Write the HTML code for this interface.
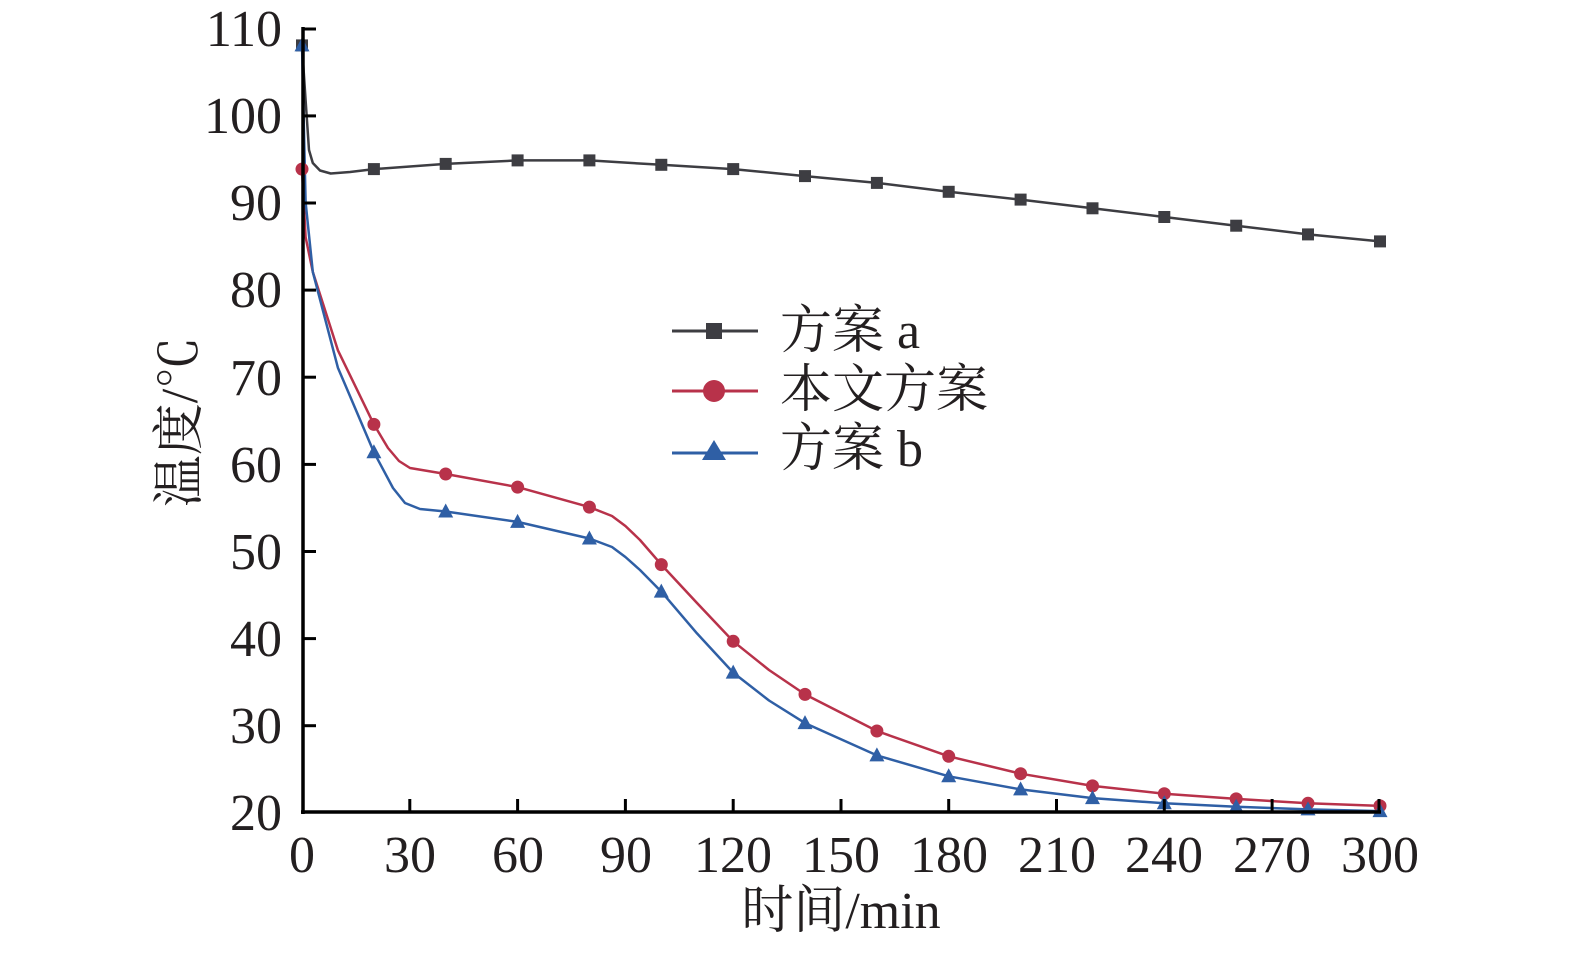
<!DOCTYPE html>
<html><head><meta charset="utf-8"><style>
body{margin:0;background:#fff}
svg text{font-family:"Liberation Serif","Noto Serif CJK SC",serif;fill:#231f20}
</style></head><body>
<svg width="1575" height="950" xmlns="http://www.w3.org/2000/svg">
<g fill="none" stroke-width="2.5" stroke-linejoin="round">
<polyline stroke="#3d3d42" points="302,45.4 305.6,100.2 309,150 312.8,163 320,170.5 330.7,173.5 350,172 373.9,169.1 445.7,163.9 517.6,160.4 589.4,160.4 661.3,164.8 733.2,169.1 805,176.1 876.9,182.9 948.7,191.8 1020.6,199.6 1092.5,208.3 1164.3,217 1236.2,225.7 1308,234.4 1380,241.4"/>
<polyline stroke="#b8324a" points="302,169.1 305.6,237.1 312.8,271.9 337.9,350.3 373.9,424.4 388,448 399,461 410,468 445.7,474 517.6,487.1 589.4,507.1 612,516 625.4,526 640,540 661.3,564.6 697,603 733.2,641.3 769,670 805,694.4 876.9,731 948.7,756.3 1020.6,773.7 1092.5,785.9 1164.3,793.7 1236.2,798.9 1308,803.3 1380,805.9"/>
<polyline stroke="#2f5fa5" points="302,45.4 305.6,202.2 312.8,271.9 337.9,367.7 373.9,452.2 393,488 405,503 420,509 445.7,511.5 517.6,521.9 589.4,538.5 612,547 625.4,557 640,570 661.3,591.6 697,633.4 733.2,672.6 769,700.5 805,723.1 876.9,755.4 948.7,776.3 1020.6,789.4 1092.5,798.1 1164.3,803.3 1236.2,806.8 1308,809.4 1380,811.1"/>
</g>
<g fill="#3d3d42">
<rect x="296" y="39.4" width="12" height="12"/><rect x="367.9" y="163.1" width="12" height="12"/><rect x="439.7" y="157.9" width="12" height="12"/><rect x="511.6" y="154.4" width="12" height="12"/><rect x="583.4" y="154.4" width="12" height="12"/><rect x="655.3" y="158.8" width="12" height="12"/><rect x="727.2" y="163.1" width="12" height="12"/><rect x="799" y="170.1" width="12" height="12"/><rect x="870.9" y="176.9" width="12" height="12"/><rect x="942.7" y="185.8" width="12" height="12"/><rect x="1014.6" y="193.6" width="12" height="12"/><rect x="1086.5" y="202.3" width="12" height="12"/><rect x="1158.3" y="211" width="12" height="12"/><rect x="1230.2" y="219.7" width="12" height="12"/><rect x="1302" y="228.4" width="12" height="12"/><rect x="1374" y="235.4" width="12" height="12"/>
<rect x="706" y="323" width="16" height="16"/>
</g>
<g fill="#b8324a">
<circle cx="302" cy="169.1" r="6.5"/><circle cx="373.9" cy="424.4" r="6.5"/><circle cx="445.7" cy="474" r="6.5"/><circle cx="517.6" cy="487.1" r="6.5"/><circle cx="589.4" cy="507.1" r="6.5"/><circle cx="661.3" cy="564.6" r="6.5"/><circle cx="733.2" cy="641.3" r="6.5"/><circle cx="805" cy="694.4" r="6.5"/><circle cx="876.9" cy="731" r="6.5"/><circle cx="948.7" cy="756.3" r="6.5"/><circle cx="1020.6" cy="773.7" r="6.5"/><circle cx="1092.5" cy="785.9" r="6.5"/><circle cx="1164.3" cy="793.7" r="6.5"/><circle cx="1236.2" cy="798.9" r="6.5"/><circle cx="1308" cy="803.3" r="6.5"/><circle cx="1380" cy="805.9" r="6.5"/>
<circle cx="714" cy="391" r="11"/>
</g>
<g fill="#2f5fa5">
<polygon points="302,37.4 294.5,51.4 309.5,51.4"/>
<polygon points="373.9,444.2 366.4,458.2 381.4,458.2"/>
<polygon points="445.7,503.5 438.2,517.5 453.2,517.5"/>
<polygon points="517.6,513.9 510.1,527.9 525.1,527.9"/>
<polygon points="589.4,530.5 581.9,544.5 596.9,544.5"/>
<polygon points="661.3,583.6 653.8,597.6 668.8,597.6"/>
<polygon points="733.2,664.6 725.7,678.6 740.7,678.6"/>
<polygon points="805,715.1 797.5,729.1 812.5,729.1"/>
<polygon points="876.9,747.4 869.4,761.4 884.4,761.4"/>
<polygon points="948.7,768.3 941.2,782.3 956.2,782.3"/>
<polygon points="1020.6,781.4 1013.1,795.4 1028.1,795.4"/>
<polygon points="1092.5,790.1 1085,804.1 1100,804.1"/>
<polygon points="1164.3,795.3 1156.8,809.3 1171.8,809.3"/>
<polygon points="1236.2,798.8 1228.7,812.8 1243.7,812.8"/>
<polygon points="1308,801.4 1300.5,815.4 1315.5,815.4"/>
<polygon points="1380,803.1 1372.5,817.1 1387.5,817.1"/>
<polygon points="714,440 702,460 726,460"/>
</g>
<g stroke-width="3">
<line x1="672" y1="331" x2="758" y2="331" stroke="#3d3d42"/>
<line x1="672" y1="391" x2="758" y2="391" stroke="#b8324a"/>
<line x1="672" y1="453" x2="758" y2="453" stroke="#2f5fa5"/>
</g>
<g stroke="#000" stroke-width="3">
<line x1="303" y1="27" x2="303" y2="814" stroke-width="3.5"/>
<line x1="301" y1="812" x2="1381" y2="812" stroke-width="3.5"/>
<line x1="303" y1="29" x2="316" y2="29"/><line x1="303" y1="115.9" x2="316" y2="115.9"/><line x1="303" y1="203" x2="316" y2="203"/><line x1="303" y1="290.1" x2="316" y2="290.1"/><line x1="303" y1="377.2" x2="316" y2="377.2"/><line x1="303" y1="464.4" x2="316" y2="464.4"/><line x1="303" y1="551.5" x2="316" y2="551.5"/><line x1="303" y1="638.6" x2="316" y2="638.6"/><line x1="303" y1="725.7" x2="316" y2="725.7"/>
<line x1="409.8" y1="812" x2="409.8" y2="799"/><line x1="517.6" y1="812" x2="517.6" y2="799"/><line x1="625.4" y1="812" x2="625.4" y2="799"/><line x1="733.2" y1="812" x2="733.2" y2="799"/><line x1="841" y1="812" x2="841" y2="799"/><line x1="948.7" y1="812" x2="948.7" y2="799"/><line x1="1056.5" y1="812" x2="1056.5" y2="799"/><line x1="1164.3" y1="812" x2="1164.3" y2="799"/><line x1="1272.1" y1="812" x2="1272.1" y2="799"/><line x1="1379" y1="812" x2="1379" y2="799"/>
</g>
<g font-size="52">
<text x="302" y="872" text-anchor="middle">0</text>
<text x="410" y="872" text-anchor="middle">30</text>
<text x="518" y="872" text-anchor="middle">60</text>
<text x="626" y="872" text-anchor="middle">90</text>
<text x="733" y="872" text-anchor="middle">120</text>
<text x="841" y="872" text-anchor="middle">150</text>
<text x="949" y="872" text-anchor="middle">180</text>
<text x="1057" y="872" text-anchor="middle">210</text>
<text x="1164" y="872" text-anchor="middle">240</text>
<text x="1272" y="872" text-anchor="middle">270</text>
<text x="1380" y="872" text-anchor="middle">300</text>
<text x="282" y="830" text-anchor="end">20</text>
<text x="282" y="743" text-anchor="end">30</text>
<text x="282" y="656" text-anchor="end">40</text>
<text x="282" y="569" text-anchor="end">50</text>
<text x="282" y="482" text-anchor="end">60</text>
<text x="282" y="395" text-anchor="end">70</text>
<text x="282" y="307" text-anchor="end">80</text>
<text x="282" y="220" text-anchor="end">90</text>
<text x="282" y="133" text-anchor="end">100</text>
<text x="282" y="46" text-anchor="end">110</text>
<text x="841" y="928" text-anchor="middle">时间/min</text>
<text transform="translate(197,422) rotate(-90)" text-anchor="middle">温度/℃</text>
<text x="780" y="348">方案 a</text>
<text x="780" y="407">本文方案</text>
<text x="780" y="466">方案 b</text>
</g>
</svg>
</body></html>
